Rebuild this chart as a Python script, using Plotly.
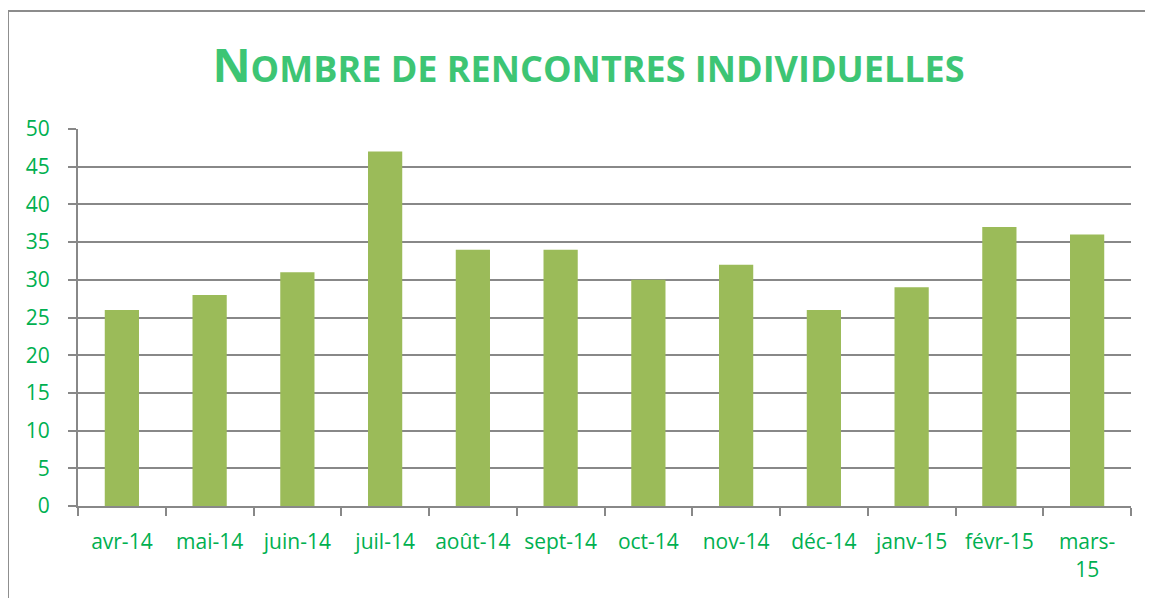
import plotly.graph_objects as go

# Données
mois = ["avr-14", "mai-14", "juin-14", "juil-14", "août-14", "sept-14",
        "oct-14", "nov-14", "déc-14", "janv-15", "févr-15", "mars-15"]
etiquettes = ["avr-14", "mai-14", "juin-14", "juil-14", "août-14", "sept-14",
              "oct-14", "nov-14", "déc-14", "janv-15", "févr-15", "mars-<br>15"]
rencontres = [26, 28, 31, 47, 34, 34, 30, 32, 26, 29, 37, 36]

VERT = "#00B050"
GRIS = "#888888"

fig = go.Figure()
fig.add_trace(go.Bar(
    x=mois, y=rencontres,
    marker=dict(color="#9BBB59", line=dict(width=0)),
    showlegend=False
))

# Bordure du cadre (gauche et haut)
fig.add_shape(type="line", xref="paper", yref="paper",
              x0=-0.0665, x1=-0.0665, y0=-0.3, y1=1.313,
              line=dict(color="#8C8C8C", width=2))
fig.add_shape(type="line", xref="paper", yref="paper",
              x0=-0.0665, x1=1.1, y0=1.313, y1=1.313,
              line=dict(color="#8C8C8C", width=2))

fig.update_layout(
    width=1145, height=590,
    margin=dict(l=70, r=22, t=121, b=92),
    paper_bgcolor="white", plot_bgcolor="white",
    bargap=0.61,
    font=dict(family="Open Sans", color=VERT),
    title=dict(
        text="<b><span style='font-size:47px'>N</span>OMBRE DE RENCONTRES INDIVIDUELLES</b>",
        font=dict(family="Open Sans", size=36, color="#3DC574"),
        x=0.507, xanchor="center", y=0.896, yanchor="middle"
    ),
    xaxis=dict(
        tickmode="array", tickvals=mois, ticktext=etiquettes,
        tickson="boundaries", ticks="outside", ticklen=8, tickwidth=2, tickcolor=GRIS,
        showline=True, linecolor=GRIS, linewidth=2,
        showgrid=False, tickfont=dict(size=21, color=VERT),
        ticklabelstandoff=16
    ),
    yaxis=dict(
        range=[0, 50], dtick=5, tickmode="linear",
        showgrid=True, gridcolor=GRIS, gridwidth=2,
        ticks="outside", ticklen=8, tickwidth=2, tickcolor=GRIS,
        showline=True, linecolor=GRIS, linewidth=2,
        zeroline=False, tickfont=dict(size=21, color=VERT),
        ticklabelstandoff=14
    ),
)

fig.write_html("out.html")
